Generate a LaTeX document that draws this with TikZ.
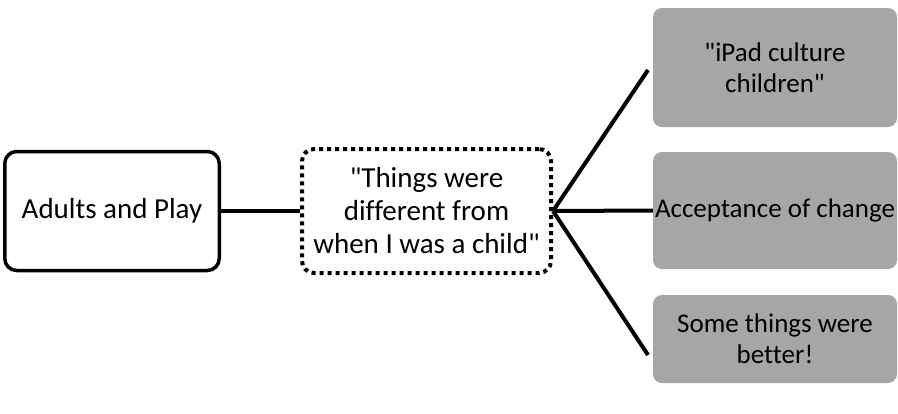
\documentclass[tikz,border=0pt]{standalone}
\usepackage{fontspec}
\setmainfont{Carlito}[Ligatures={TeXOff,NoCommon}]
\begin{document}
\begin{tikzpicture}[x=1pt,y=-1pt,
  txt/.style={font=\fontsize{27}{31}\selectfont, align=center, inner sep=0pt},
  bigtxt/.style={font=\fontsize{29}{33}\selectfont, align=center, inner sep=0pt},
  whitebox/.style={bigtxt, draw=black, line width=3.5pt, rounded corners=12pt, fill=white},
  dotbox/.style={bigtxt, draw=black, line width=4pt, rounded corners=12pt, dash pattern=on 4pt off 4pt},
  graybox/.style={txt, fill=gray65, rounded corners=9pt},
  conn/.style={line width=4pt}]
\definecolor{gray65}{HTML}{A6A6A6}
\useasboundingbox (0,0) rectangle (898,413);
\node[whitebox, minimum width=214.5pt, minimum height=119pt] (adults) at (112,211) {Adults and Play};
\node[dotbox, minimum width=249pt, minimum height=124pt] (diff) at (426.5,211) {"Things were\\different from\\when I was a child"};
\node[graybox, minimum width=244pt, minimum height=119pt] (ipad) at (775,67.5) {"iPad culture\\children"};
\node[graybox, minimum width=244pt, minimum height=117pt] (accept) at (775,210.5) {Acceptance of change};
\node[graybox, minimum width=244pt, minimum height=88pt] (better) at (775,339) {Some things were\\better!};
\coordinate (c1) at (648,70);
\coordinate (c3) at (648,355);
\draw[conn] (adults.east) -- (diff.west);
\draw[conn] (diff.east) -- (c1);
\draw[conn] (diff.east) -- (accept.west);
\draw[conn] (diff.east) -- (c3);
\end{tikzpicture}
\end{document}
